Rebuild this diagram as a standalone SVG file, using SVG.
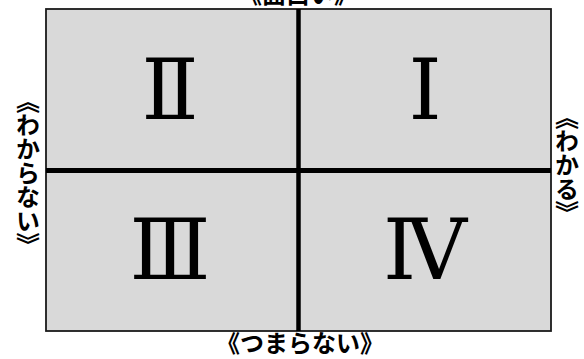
<svg xmlns="http://www.w3.org/2000/svg" width="584" height="359" viewBox="0 0 584 359">
<style>
.num{font-family:"Liberation Serif","DejaVu Serif",serif;font-size:84px;fill:#000;text-anchor:middle}
.lbl{font-family:"Noto Sans CJK JP",sans-serif;font-weight:bold;font-size:24px;fill:#000;text-anchor:middle}
.v{writing-mode:vertical-rl}
</style>
<rect width="584" height="359" fill="#fff"/>
<g id="quadrants">
<rect x="46" y="9" width="505" height="322" fill="#d9d9d9" stroke="#1a1a1a" stroke-width="1.8"/>
</g>
<g id="connectors">
<line x1="298.5" y1="9" x2="298.5" y2="331" stroke="#000" stroke-width="4.5"/>
<line x1="46" y1="170.5" x2="551" y2="170.5" stroke="#000" stroke-width="5"/>
</g>
<g id="q2"><text class="num" x="170" y="119">Ⅱ</text></g>
<g id="q1"><text class="num" x="425" y="119">Ⅰ</text></g>
<g id="q3"><text class="num" x="170" y="279">Ⅲ</text></g>
<g id="q4"><text class="num" x="425" y="279">Ⅳ</text></g>
<g id="top"><text class="lbl" x="298" y="3">《面白い》</text></g>
<g id="bottom"><text class="lbl" x="300" y="352">《つまらない》</text></g>
<g id="left"><text class="lbl v" x="28" y="173">《わからない》</text></g>
<g id="right"><text class="lbl v" x="567" y="165">《わかる》</text></g>
</svg>
